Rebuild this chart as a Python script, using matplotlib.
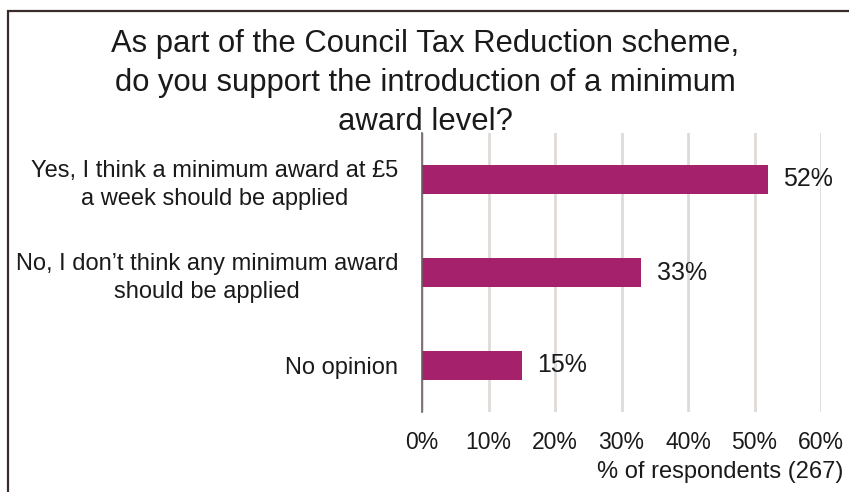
import matplotlib.pyplot as plt
from matplotlib.patches import Rectangle
from matplotlib.ticker import FuncFormatter

plt.rcParams['font.family'] = ['Liberation Sans', 'DejaVu Sans']

categories = ['Yes, I think a minimum award at £5\na week should be applied',
              'No, I don\u2019t think any minimum award\nshould be applied',
              'No opinion']
values = [52, 33, 15]
xticks = [0, 10, 20, 30, 40, 50, 60]

bar_color = '#a6216b'
grid_color = '#dedad8'
text_color = '#1a1a1a'

fig = plt.figure(figsize=(8.49, 4.92), dpi=100)
ax = fig.add_axes([422/849, 1-412/492, (821-422)/849, (412-133)/492])

# outer frame (open on the right and bottom)
fig.patches.append(Rectangle((8/849, -0.1), 1.2, 1.1 - 11/492, transform=fig.transFigure,
                             fill=False, edgecolor='#3b2c2c', linewidth=1.6))

ypos = [0, 1, 2]
ax.barh(ypos, values, height=0.31, color=bar_color, zorder=3)
for y, v in zip(ypos, values):
    ax.text(v + 2.3, y, f'{v}%', va='center', ha='left', fontsize=18, color=text_color)

ax.set_ylim(2.5, -0.5)
ax.set_xlim(0, 60)
ax.set_yticks(ypos)
ax.set_yticklabels(categories, fontsize=17, color=text_color, multialignment='center',
                   linespacing=1.35)
ax.set_xticks(xticks)
ax.xaxis.set_major_formatter(FuncFormatter(lambda x, p: f'{x:.0f}%'))
ax.tick_params(axis='x', labelsize=16.5, colors=text_color, length=0, pad=14)
ax.tick_params(axis='y', length=0, pad=17)
ax.grid(axis='x', color=grid_color, linewidth=2, zorder=0)

for s in ['top', 'right', 'bottom']:
    ax.spines[s].set_visible(False)
ax.spines['left'].set_color('#6b5f5f')
ax.spines['left'].set_linewidth(1.2)
ax.spines['left'].set_zorder(4)

fig.text(843/849, 1-472/492, '% of respondents (267)', ha='right', va='center',
         fontsize=17, color=text_color)
fig.text(425/849, 1-83/492,
         'As part of the Council Tax Reduction scheme,\ndo you support the introduction of a minimum\naward level?',
         ha='center', va='center', fontsize=22.3, color=text_color, linespacing=1.38)

fig.savefig('out.png', dpi=100)
